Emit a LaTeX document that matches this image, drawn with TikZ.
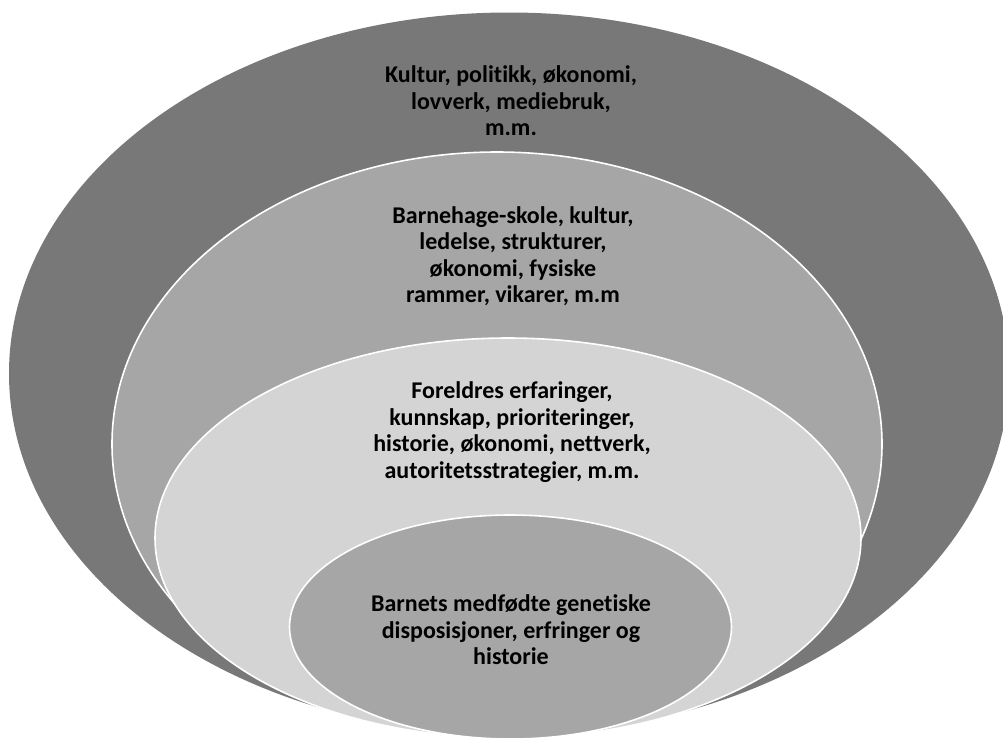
\documentclass[tikz,border=0pt]{standalone}
\usepackage{fontspec}
\setmainfont[RawFeature={-liga}]{Carlito}
\usetikzlibrary{shapes.geometric}
\definecolor{ringA}{HTML}{787878}
\definecolor{ringB}{HTML}{A6A6A6}
\definecolor{ringC}{HTML}{D4D4D4}
\tikzset{
  ring/.style={ellipse, inner sep=0pt, outer sep=0pt},
  inner ring/.style={ring, draw=white, line width=1.6pt},
  label text/.style={align=center, font=\bfseries\fontsize{24}{26.5}\selectfont, text=black, inner sep=0pt}
}
\begin{document}
\begin{tikzpicture}[x=1pt, y=-1pt]
\useasboundingbox (0,0) rectangle (1003,740);
\clip (0,0) rectangle (1003,740);
\node[ring, fill=ringA, minimum width=1000pt, minimum height=722pt] (outer) at (509,373.5) {};
\node[inner ring, fill=ringB, minimum width=770pt, minimum height=584pt] (school) at (497,444) {};
\node[inner ring, fill=ringC, minimum width=706pt, minimum height=400pt] (parents) at (508,538) {};
\node[inner ring, fill=ringB, minimum width=442pt, minimum height=224pt] (child) at (510.5,627) {};
\node[label text] (t1) at (511,101) {Kultur, politikk, økonomi,\\lovverk, mediebruk,\\m.m.};
\node[label text] (t2) at (513,256) {Barnehage-skole, kultur,\\ledelse, strukturer,\\økonomi, fysiske\\rammer, vikarer, m.m};
\node[label text] (t3) at (512,432) {Foreldres erfaringer,\\kunnskap, prioriteringer,\\historie, økonomi, nettverk,\\autoritetsstrategier, m.m.};
\node[label text] (t4) at (511,630) {Barnets medfødte genetiske\\disposisjoner, erfringer og\\historie};
\end{tikzpicture}
\end{document}
